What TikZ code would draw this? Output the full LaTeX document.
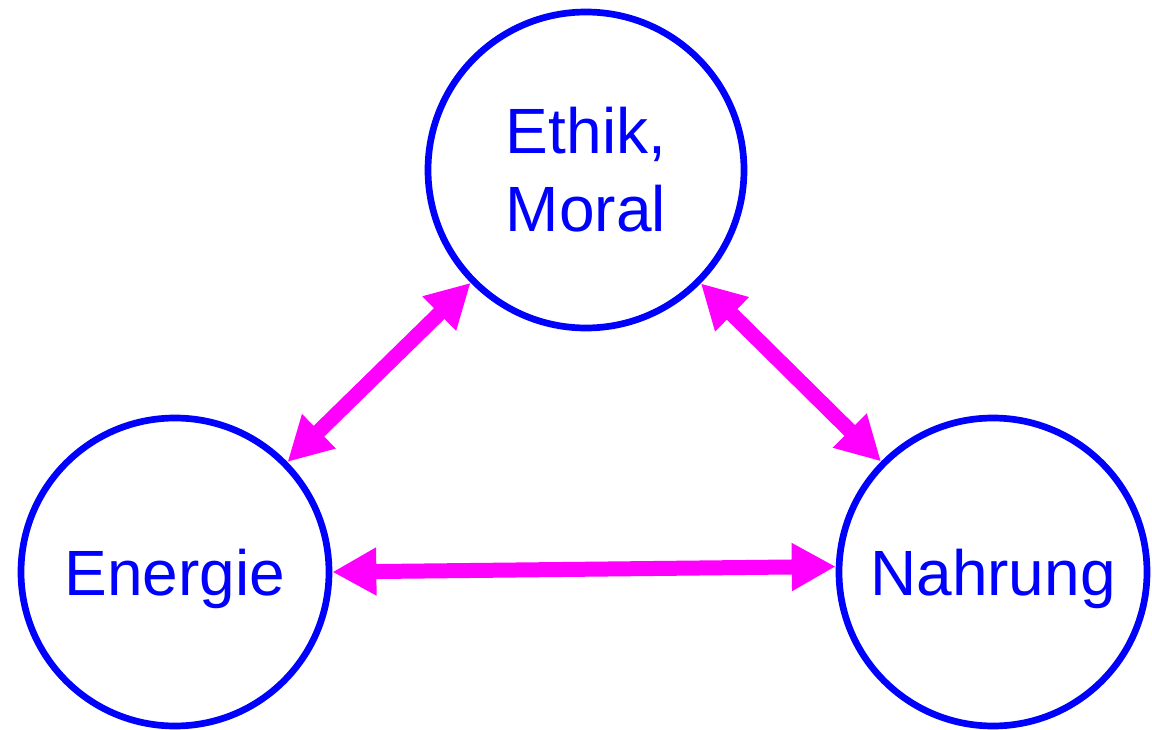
\documentclass[tikz,border=0pt]{standalone}
\usepackage{fontspec}
\setmainfont{Liberation Sans}
\usetikzlibrary{arrows.meta}
\definecolor{cblue}{RGB}{0,0,255}
\definecolor{cmag}{RGB}{255,0,255}
\begin{document}
\begin{tikzpicture}[x=1pt,y=-1pt,
  topic/.style={circle,draw=cblue,line width=6.7pt,text=cblue,align=center,
    font=\fontsize{64}{78}\selectfont,inner sep=0pt},
  link/.style={cmag,line width=15pt,{Triangle[length=44pt,width=45pt]}-{Triangle[length=44pt,width=45pt]}}]
\useasboundingbox (0,0) rectangle (1152,730);
\node[topic,minimum size=316pt] (top) at (586,170) {Ethik,\\Moral};
\node[topic,minimum size=308pt,text depth=0pt] (left) at (175,572) {Energie};
\node[topic,minimum size=308pt,text depth=0pt] (right) at (993,572) {Nahrung};
\draw[link] (top) -- (left);
\draw[link] (top) -- (right);
\draw[link] (left.0) -- (right.178);
\end{tikzpicture}
\end{document}
